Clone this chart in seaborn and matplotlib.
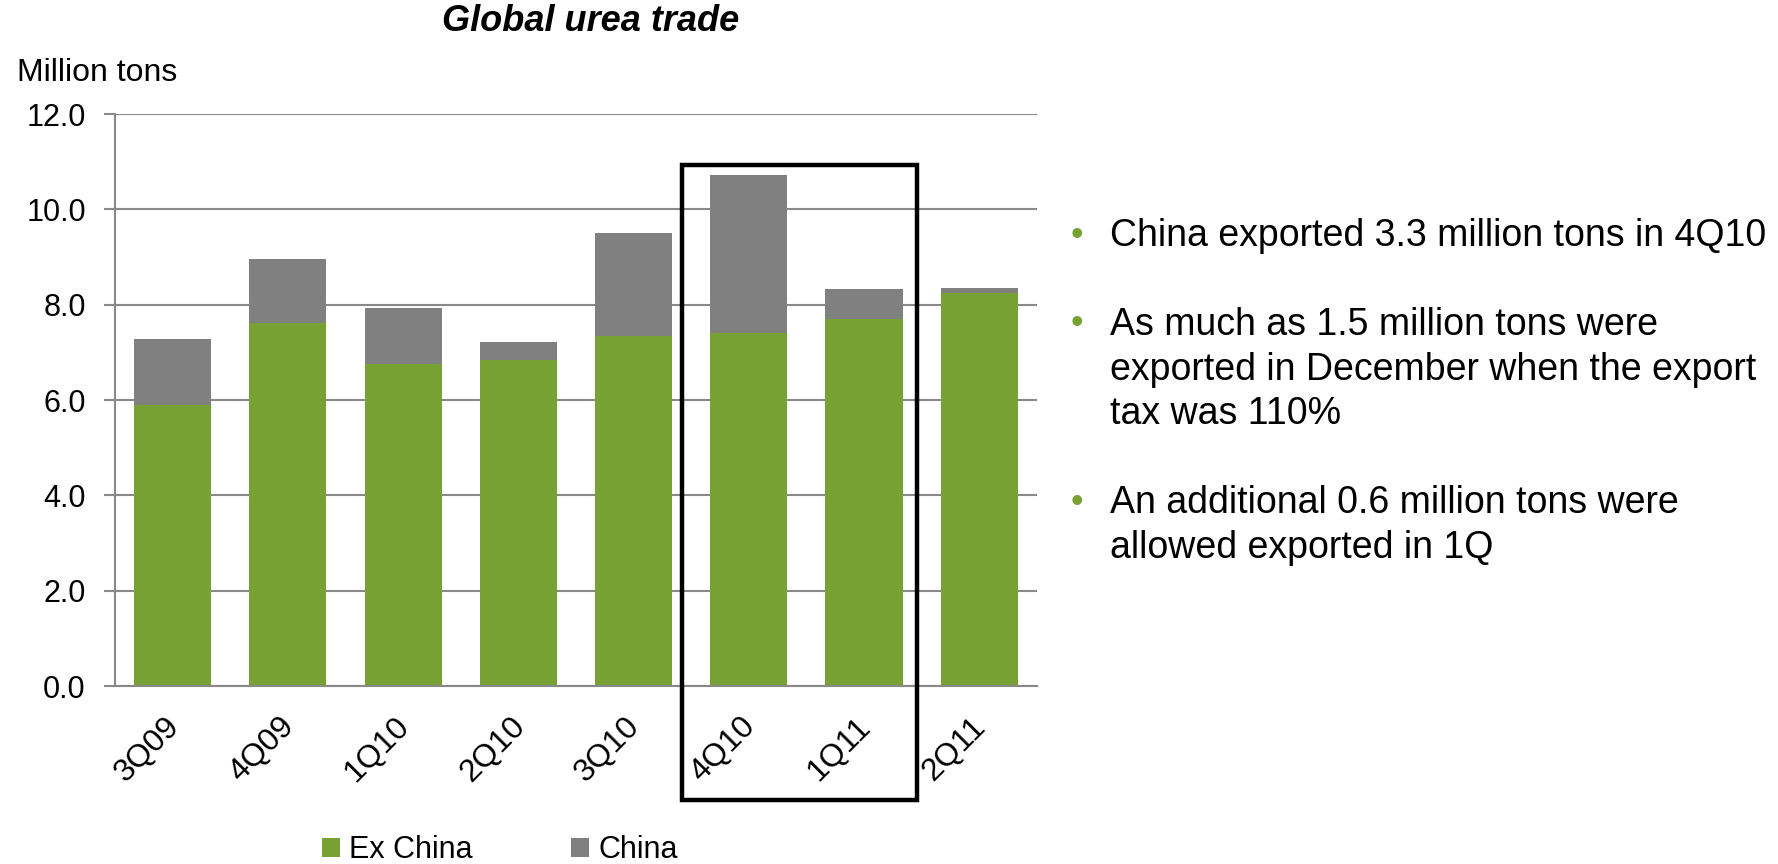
import matplotlib
matplotlib.use("Agg")
import matplotlib.pyplot as plt
import matplotlib.transforms as mtransforms
from matplotlib.patches import Rectangle, Patch
import numpy as np
import pandas as pd
import seaborn as sns

# Quarterly global urea trade, million tons
quarters = ["3Q09", "4Q09", "1Q10", "2Q10", "3Q10", "4Q10", "1Q11", "2Q11"]
ex_china = [5.90, 7.62, 6.75, 6.85, 7.35, 7.40, 7.70, 8.24]
china = [1.37, 1.34, 1.19, 0.36, 2.16, 3.33, 0.62, 0.10]

y_ticks = [0.0, 2.0, 4.0, 6.0, 8.0, 10.0, 12.0]
title = "Global urea trade"
y_label = "Million tons"
series_names = ["Ex China", "China"]

bullets = [
    ["China exported 3.3 million tons in 4Q10"],
    ["As much as 1.5 million tons were",
     "exported in December when the export",
     "tax was 110%"],
    ["An additional 0.6 million tons were",
     "allowed exported in 1Q"],
]

GREEN = "#77A133"
GREY = "#808080"
AXIS_GREY = "#898989"

sns.set_theme(style="white")
plt.rcParams["font.family"] = ["Liberation Sans", "DejaVu Sans"]
plt.rcParams["text.color"] = "black"
plt.rcParams["xtick.color"] = "black"
plt.rcParams["ytick.color"] = "black"

df = pd.DataFrame({
    "quarter": quarters,
    "ex_china": ex_china,
    "china": china,
})
df["total"] = df["ex_china"] + df["china"]

fig = plt.figure(figsize=(17.78, 8.64), dpi=100)
ax = fig.add_axes([0.0647, 0.206, 0.5185, 0.662])

# Stacked bars: full total in grey, Ex China portion on top in green
sns.barplot(data=df, x="quarter", y="total", color=GREY, width=0.67,
            saturation=1, linewidth=0, ax=ax, zorder=3)
sns.barplot(data=df, x="quarter", y="ex_china", color=GREEN, width=0.67,
            saturation=1, linewidth=0, ax=ax, zorder=4)

ax.set_xlim(-0.5, len(quarters) - 0.5)
ax.set_ylim(0, 12)
ax.set_yticks(y_ticks)
ax.set_yticklabels([f"{v:.1f}" for v in y_ticks], fontsize=22)
ax.set_xlabel("")
ax.set_ylabel("")

ax.grid(axis="y", color=AXIS_GREY, linewidth=1.5, zorder=0)
ax.grid(axis="x", visible=False)
for side in ["top", "right"]:
    ax.spines[side].set_visible(False)
for side in ["left", "bottom"]:
    ax.spines[side].set_color(AXIS_GREY)
    ax.spines[side].set_linewidth(1.5)
    ax.spines[side].set_zorder(5)

ax.tick_params(axis="y", length=8, width=1.5, color=AXIS_GREY, pad=13,
               left=True, labelcolor="black")
ax.tick_params(axis="x", length=0, pad=26, labelsize=23, labelcolor="black")

shift = mtransforms.ScaledTranslation(0.02, 0, fig.dpi_scale_trans)
for lab in ax.get_xticklabels():
    lab.set_rotation(45)
    lab.set_rotation_mode("anchor")
    lab.set_ha("right")
    lab.set_va("center")
    lab.set_transform(lab.get_transform() + shift)

fig.text(0.332, 0.975, title, fontsize=26, fontweight="bold",
         fontstyle="italic", ha="center", va="center", color="black")
fig.text(0.0096, 0.9155, y_label, fontsize=23, ha="left", va="center",
         color="black")

# Highlight frame around 4Q10 and 1Q11
fig.add_artist(Rectangle((0.3836, 0.0741), 0.1322, 0.7349,
                         transform=fig.transFigure, fill=False,
                         edgecolor="black", linewidth=3.2, zorder=10))

handles = [Patch(facecolor=GREEN, edgecolor="none"),
           Patch(facecolor=GREY, edgecolor="none")]
fig.legend(handles, series_names, loc="center", bbox_to_anchor=(0.281, 0.0162),
           ncol=2, frameon=False, fontsize=22, handlelength=0.6,
           handleheight=0.6, handletextpad=0.3, columnspacing=3.2,
           borderpad=0, borderaxespad=0, labelcolor="black")

# Commentary bullets on the right
line_h = 44.5 / 864
baseline = 1 - 246 / 864
for para in bullets:
    fig.text(0.6057, baseline + 11 / 864, "\u2022", color=GREEN, fontsize=26,
             ha="center", va="center")
    for line in para:
        fig.text(0.6243, baseline, line, fontsize=27, ha="left",
                 va="baseline", color="black")
        baseline -= line_h
    baseline -= line_h

fig.savefig("out.png", dpi=100)
